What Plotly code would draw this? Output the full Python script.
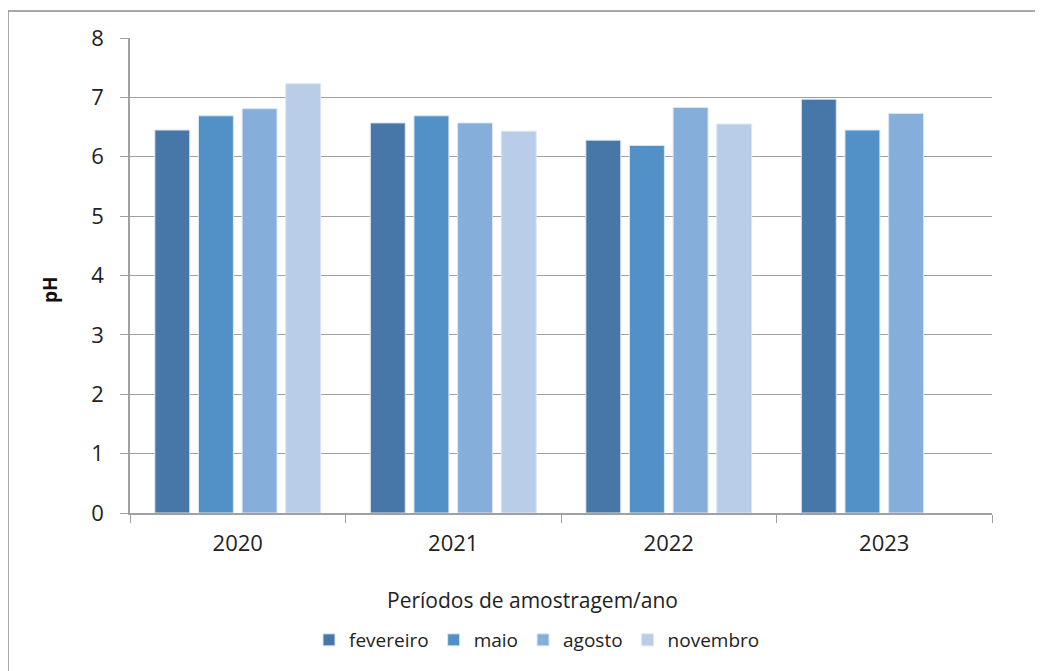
import plotly.graph_objects as go

anos = ["2020", "2021", "2022", "2023"]
fevereiro = [6.45, 6.57, 6.28, 6.97]
maio = [6.69, 6.69, 6.19, 6.45]
agosto = [6.81, 6.57, 6.83, 6.73]
novembro = [7.23, 6.43, 6.55, None]

series = [
    ("fevereiro", fevereiro, "#4677A8"),
    ("maio", maio, "#5291C8"),
    ("agosto", agosto, "#85AEDB"),
    ("novembro", novembro, "#B9CDE8"),
]

fig = go.Figure()
for name, vals, col in series:
    fig.add_trace(go.Bar(
        x=anos, y=vals, name=name,
        marker=dict(color=col, line=dict(color="#DCE6F2", width=1)),
    ))

# page has an 8px body margin, so the figure is offset by 8px
OFF = 8
W, H = 1043 - OFF, 671 - OFF
L, R, T, B = 130 - OFF, 51, 38 - OFF, 158
pw, ph = W - L - R, H - T - B

def px(x):
    return (x - OFF - L) / pw

def py(y):
    return (H - B - (y - OFF)) / ph

FONT = "Open Sans, Liberation Sans, Arial, sans-serif"

fig.update_layout(
    width=W, height=H,
    margin=dict(l=L, r=R, t=T, b=B),
    paper_bgcolor="white", plot_bgcolor="white",
    barmode="group", bargap=0.19, bargroupgap=0.2,
    font=dict(family=FONT, color="#222222"),
    showlegend=True,
    legend=dict(orientation="h", x=px(537), xanchor="center", y=py(640), yanchor="middle",
                font=dict(size=19), traceorder="normal", itemwidth=30),
    xaxis=dict(showgrid=False, showline=True, linecolor="#A0A0A0", linewidth=1.5,
               ticks="outside", ticklen=8, tickcolor="#A0A0A0", tickson="boundaries",
               tickfont=dict(size=22), ticklabelstandoff=10),
    yaxis=dict(range=[0, 8], dtick=1, showgrid=True, gridcolor="#A0A0A0", gridwidth=1.3,
               showline=True, linecolor="#A0A0A0", linewidth=1.5,
               ticks="outside", ticklen=8, tickcolor="#A0A0A0",
               tickfont=dict(size=22), zeroline=False, ticklabelstandoff=12),
    annotations=[
        dict(text="<b>pH</b>", x=px(50), y=py(290), xref="paper", yref="paper",
             textangle=-90, showarrow=False, font=dict(size=19, color="#111111"),
             xanchor="center", yanchor="middle"),
        dict(text="Períodos de amostragem/ano", x=px(532), y=py(600), xref="paper", yref="paper",
             showarrow=False, font=dict(size=21, color="#222222"),
             xanchor="center", yanchor="middle"),
    ],
    shapes=[
        dict(type="rect", xref="paper", yref="paper",
             x0=px(8), x1=px(1100), y0=py(720), y1=py(11),
             line=dict(color="#8C8C8C", width=1.5), fillcolor="rgba(0,0,0,0)", layer="below"),
    ],
)

fig.write_html("out.html")
